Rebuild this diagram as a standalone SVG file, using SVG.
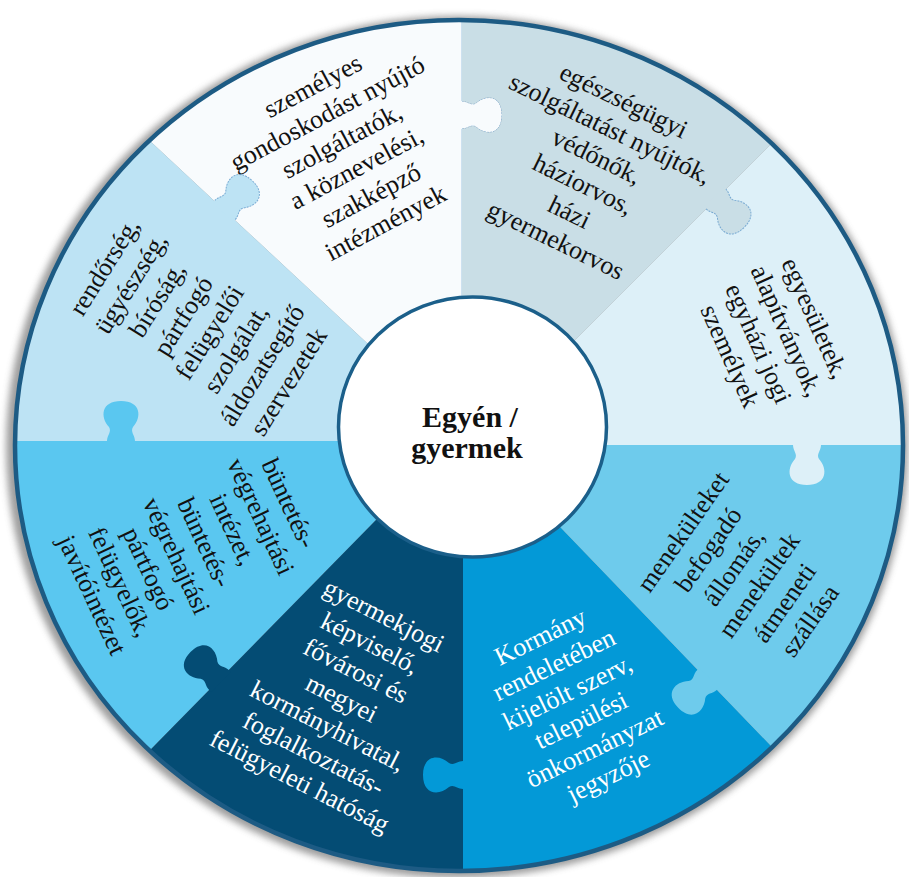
<svg xmlns="http://www.w3.org/2000/svg" xmlns:xlink="http://www.w3.org/1999/xlink" width="909" height="877" viewBox="0 0 909 877">
<style>
.t{font-family:"Liberation Serif","Times New Roman",serif;font-size:26px;text-anchor:middle;fill:#111}
.w{fill:#fff}
.c{font-family:"Liberation Serif","Times New Roman",serif;font-size:30px;font-weight:bold;text-anchor:middle;fill:#111}
.edge{fill:none;stroke:#5b95c8;stroke-width:1;stroke-dasharray:2 1;opacity:.75}
.seam{fill:none;stroke:#7fb0d6;stroke-width:1;opacity:.7}
</style>
<defs>
<path id="knob" d="M-14,-3 L-14,0 C-14,6 -9,9 -12,14 C-21,24 -20,40 0,40 C20,40 21,24 12,14 C9,9 14,6 14,0 L14,-3 Z"/>
<path id="knobEdge" d="M-14,0 C-14,6 -9,9 -12,14 C-21,24 -20,40 0,40 C20,40 21,24 12,14 C9,9 14,6 14,0"/>
<clipPath id="ring"><ellipse cx="459" cy="445.5" rx="444" ry="425.5"/></clipPath>
<mask id="mG" maskUnits="userSpaceOnUse" x="0" y="0" width="909" height="877">
<rect width="909" height="877" fill="#fff"/>
<use xlink:href="#knob" href="#knob" transform="translate(462,115) rotate(-90)" fill="#000"/>
</mask>
<filter id="blur" x="-10%" y="-10%" width="120%" height="120%"><feGaussianBlur stdDeviation="3.5"/></filter>
</defs>
<rect width="909" height="877" fill="#fff"/>
<ellipse cx="457" cy="447" rx="451" ry="431" fill="#8c8c8c" opacity=".85" filter="url(#blur)"/>
<g clip-path="url(#ring)">
<g id="szemelyes">
<path d="M472,427 L462,330 L462,-130 L47,45 L389,363.5 Z" fill="#f8fbfd"/>
<use href="#knob" transform="translate(462,115) rotate(-90)" fill="#f8fbfd"/>
<use href="#knobEdge" class="edge" transform="translate(462,115) rotate(-90)"/>
<path class="seam" d="M462,20 V101 M462,129 V300"/>
<text class="t" transform="translate(349,154) rotate(-28)"><tspan x="0" y="-68.5">személyes</tspan><tspan x="0" y="-37.5">gondoskodást nyújtó</tspan><tspan x="0" y="-6.5">szolgáltatók,</tspan><tspan x="0" y="24.5">a köznevelési,</tspan><tspan x="0" y="55.5">szakképző</tspan><tspan x="0" y="86.5">intézmények</tspan></text>
</g>
<g id="rendorseg">
<path d="M472,427 L389,363.5 L47,45 L-135,441 L368,441 Z" fill="#bde3f4"/>
<use href="#knob" transform="translate(225,210) rotate(-137)" fill="#bde3f4"/>
<use href="#knobEdge" class="edge" transform="translate(225,210) rotate(-137)"/>
<text class="t" transform="translate(196,324) rotate(-58)"><tspan x="0" y="-99.5">rendőrség,</tspan><tspan x="0" y="-68.5">ügyészség,</tspan><tspan x="0" y="-37.5">bíróság,</tspan><tspan x="0" y="-6.5">pártfogó</tspan><tspan x="0" y="24.5">felügyelői</tspan><tspan x="0" y="55.5">szolgálat,</tspan><tspan x="0" y="86.5">áldozatsegítő</tspan><tspan x="0" y="117.5">szervezetek</tspan></text>
</g>
<g id="buntetes">
<path d="M472,427 L368,441 L-135,441 L48,854 L394,501.6 Z" fill="#5ac7f0"/>
<use href="#knob" transform="translate(121,441) rotate(180)" fill="#5ac7f0"/>
<text class="t" transform="translate(191,549) rotate(65)"><tspan x="0" y="-99.5">büntetés-</tspan><tspan x="0" y="-68.5">végrehajtási</tspan><tspan x="0" y="-37.5">intézet,</tspan><tspan x="0" y="-6.5">büntetés-</tspan><tspan x="0" y="24.5">végrehajtási</tspan><tspan x="0" y="55.5">pártfogó</tspan><tspan x="0" y="86.5">felügyelők,</tspan><tspan x="0" y="117.5">javítóintézet</tspan></text>
</g>
<g id="gyermekjogi">
<path d="M472,427 L394,501.6 L48,854 L463,1021 L463,527 Z" fill="#044c74"/>
<use href="#knob" transform="translate(219,680) rotate(134.5)" fill="#044c74"/>
<text class="t w" transform="translate(342,698) rotate(27)"><tspan x="0" y="-84">gyermekjogi</tspan><tspan x="0" y="-53">képviselő,</tspan><tspan x="0" y="-22">fővárosi és</tspan><tspan x="0" y="9">megyei</tspan><tspan x="0" y="40">kormányhivatal,</tspan><tspan x="0" y="71">foglalkoztatás-</tspan><tspan x="0" y="102">felügyeleti hatóság</tspan></text>
</g>
<g id="kormany">
<path d="M472,427 L463,527 L463,1021 L876,855 L539,505 Z" fill="#0399d7"/>
<use href="#knob" transform="translate(463,775) rotate(90)" fill="#0399d7"/>
<text class="t w" transform="translate(574,706) rotate(-26)"><tspan x="0" y="-68.5">Kormány</tspan><tspan x="0" y="-37.5">rendeletében</tspan><tspan x="0" y="-6.5">kijelölt szerv,</tspan><tspan x="0" y="24.5">települési</tspan><tspan x="0" y="55.5">önkormányzat</tspan><tspan x="0" y="86.5">jegyzője</tspan></text>
</g>
<g id="menekult">
<path d="M472,427 L539,505 L876,855 L1053,445 L577,445 Z" fill="#6ecbec"/>
<use href="#knob" transform="translate(707,680) rotate(46)" fill="#6ecbec"/>
<text class="t" transform="translate(746,576) rotate(-55)"><tspan x="0" y="-68.5">menekülteket</tspan><tspan x="0" y="-37.5">befogadó</tspan><tspan x="0" y="-6.5">állomás,</tspan><tspan x="0" y="24.5">menekültek</tspan><tspan x="0" y="55.5">átmeneti</tspan><tspan x="0" y="86.5">szállása</tspan></text>
</g>
<g id="egyesuletek">
<path d="M472,427 L577,445 L1053,445 L874,41 L556,359 Z" fill="#ddf0f8"/>
<use href="#knob" transform="translate(807,445) rotate(0)" fill="#ddf0f8"/>
<text class="t" transform="translate(773,337) rotate(66)"><tspan x="0" y="-37.5">egyesületek,</tspan><tspan x="0" y="-6.5">alapítványok,</tspan><tspan x="0" y="24.5">egyházi jogi</tspan><tspan x="0" y="55.5">személyek</tspan></text>
</g>
<g id="egeszsegugyi">
<path d="M472,427 L556,359 L874,41 L462,-130 L462,330 Z" fill="#c9dee6" mask="url(#mG)"/>
<use href="#knob" transform="translate(716,199) rotate(-45)" fill="#c9dee6"/>
<use href="#knobEdge" class="edge" transform="translate(716,199) rotate(-45)"/>
<text class="t" transform="translate(590,170) rotate(26)"><tspan x="0" y="-68.5">egészségügyi</tspan><tspan x="0" y="-37.5">szolgáltatást nyújtók,</tspan><tspan x="0" y="-6.5">védőnők,</tspan><tspan x="0" y="24.5">háziorvos,</tspan><tspan x="0" y="55.5">házi</tspan><tspan x="0" y="86.5">gyermekorvos</tspan></text>
</g>
</g>
<ellipse cx="459" cy="445.5" rx="444" ry="425.5" fill="none" stroke="#1d5b84" stroke-width="4.5"/>
<g id="egyen">
<ellipse cx="472.5" cy="427" rx="134" ry="130" fill="#fff" stroke="#1b5f8a" stroke-width="3.5"/>
<text class="c"><tspan x="470" y="427">Egyén /</tspan><tspan x="467" y="458">gyermek</tspan></text>
</g>
</svg>
